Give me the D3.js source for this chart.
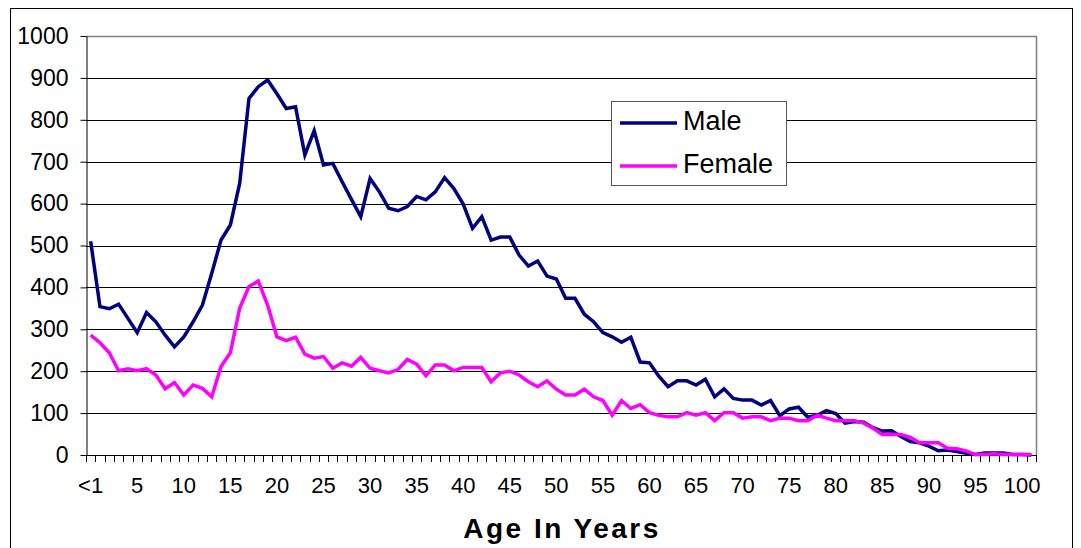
<!DOCTYPE html>
<html>
<head>
    <title>Age In Years</title>
    <meta charset="utf-8">
    <style>
        body { margin: 0; background: #fff; }
        text { font-family: "Liberation Sans", Arial, sans-serif; }
    </style>
</head>
<body>
<script src="https://d3js.org/d3.v7.min.js"></script>
<script>
    // Age categories: "<1", 1 ... 101
    const ages = d3.range(0, 102).map(a => a === 0 ? '<1' : String(a));
    const male = [510, 354, 349, 360, 326, 292, 340, 318, 286, 258,
        282, 318, 358, 434, 513, 549, 648, 851, 879, 895,
        862, 827, 831, 716, 774, 692, 696, 652, 610, 569,
        660, 628, 589, 583, 593, 617, 609, 628, 662, 636,
        599, 541, 569, 513, 520, 520, 477, 451, 463, 427,
        420, 374, 374, 336, 318, 292, 282, 269, 281, 222,
        220, 188, 163, 177, 177, 167, 181, 139, 158, 135,
        131, 131, 119, 130, 94, 110, 114, 90, 95, 106,
        99, 76, 80, 78, 65, 57, 58, 44, 32, 29,
        21, 10, 12, 8, 4, 1, 5, 5, 5, 1,
        1, 0];
    const female = [286, 268, 244, 201, 206, 201, 206, 191, 158, 173,
        143, 167, 159, 139, 211, 244, 350, 402, 415, 358,
        282, 273, 281, 241, 231, 235, 207, 220, 212, 233,
        207, 201, 196, 204, 228, 217, 189, 215, 215, 201,
        209, 209, 209, 175, 196, 200, 191, 175, 163, 177,
        157, 143, 143, 157, 139, 130, 95, 130, 111, 120,
        101, 95, 91, 91, 101, 95, 101, 82, 101, 101,
        88, 91, 91, 82, 88, 88, 82, 82, 95, 88,
        82, 82, 82, 76, 64, 49, 49, 49, 42, 29,
        29, 29, 16, 15, 10, 1, 1, 3, 1, 1,
        1, 1];
    const yTicks = d3.range(0, 1001, 100);
    const xLabelEvery = 5;
    const series = [
        {name: 'Male', values: male, color: '#000080'},
        {name: 'Female', values: female, color: '#ff00ff'}
    ];

    const W = 1081, H = 548;
    const plot = {left: 86, right: 1036, top: 36, bottom: 455};

    const svg = d3.select('body').append('svg')
        .attr('width', W)
        .attr('height', H);

    // chart area border (runs off the bottom of the picture)
    svg.append('rect')
        .attr('x', 10.5).attr('y', 8.5)
        .attr('width', 1062).attr('height', 570)
        .attr('fill', '#fff').attr('stroke', '#000');

    const x = d3.scaleBand().domain(ages).range([plot.left, plot.right]).padding(0);
    const y = d3.scaleLinear().domain([0, 1000]).range([plot.bottom, plot.top]);
    const cx = a => x(a) + x.bandwidth() / 2;

    // gridlines
    svg.append('g')
        .selectAll('line')
        .data(yTicks.filter(t => t > 0 && t < 1000))
        .join('line')
        .attr('x1', plot.left).attr('x2', plot.right)
        .attr('y1', d => Math.round(y(d)) + 0.5).attr('y2', d => Math.round(y(d)) + 0.5)
        .attr('stroke', '#000').attr('stroke-width', 1);

    // plot area border (top and right)
    svg.append('path')
        .attr('d', `M${plot.left},${plot.top + 0.5}H${plot.right + 0.5}V${plot.bottom}`)
        .attr('fill', 'none').attr('stroke', '#808080').attr('stroke-width', 1.5);

    // y axis
    const yAxis = svg.append('g')
        .attr('transform', `translate(${plot.left + 0.5},0)`)
        .call(d3.axisLeft(y).tickValues(yTicks).tickFormat(d3.format('d'))
            .tickSize(6).tickPadding(12).tickSizeOuter(0));
    yAxis.select('.domain').attr('stroke', '#000');
    yAxis.selectAll('text').attr('font-size', 23).attr('fill', '#000')
        .style('font-family', '"Liberation Sans", Arial, sans-serif');

    // x axis: ticks between categories, labels every 5th
    const xg = svg.append('g');
    xg.append('line')
        .attr('x1', plot.left).attr('x2', plot.right + 0.5)
        .attr('y1', plot.bottom + 0.5).attr('y2', plot.bottom + 0.5)
        .attr('stroke', '#000');
    xg.selectAll('.xt')
        .data(ages.concat(['end']))
        .join('line')
        .attr('class', 'xt')
        .attr('x1', (d, i) => Math.round(plot.left + i * x.bandwidth()) + 0.5)
        .attr('x2', (d, i) => Math.round(plot.left + i * x.bandwidth()) + 0.5)
        .attr('y1', plot.bottom).attr('y2', plot.bottom + 7)
        .attr('stroke', '#000');
    xg.selectAll('.xl')
        .data(ages.filter((d, i) => i % xLabelEvery === 0 && i <= 100))
        .join('text')
        .attr('class', 'xl')
        .attr('x', d => cx(d))
        .attr('y', 493)
        .attr('text-anchor', 'middle')
        .attr('font-size', 22)
        .text(d => d);

    // lines
    const line = d3.line()
        .x((d, i) => cx(ages[i]))
        .y(d => y(d));
    svg.append('g')
        .selectAll('path')
        .data(series)
        .join('path')
        .attr('d', d => line(d.values))
        .attr('fill', 'none')
        .attr('stroke', d => d.color)
        .attr('stroke-width', 3.5)
        .attr('stroke-linejoin', 'miter');

    // legend
    const lg = svg.append('g');
    lg.append('rect')
        .attr('x', 611.5).attr('y', 101.5)
        .attr('width', 175).attr('height', 84)
        .attr('fill', '#fff').attr('stroke', '#555');
    const items = lg.selectAll('.li')
        .data(series)
        .join('g')
        .attr('class', 'li')
        .attr('transform', (d, i) => `translate(0,${123 + i * 43})`);
    items.append('line')
        .attr('x1', 620).attr('x2', 677)
        .attr('stroke', d => d.color).attr('stroke-width', 3.5);
    items.append('text')
        .attr('x', 683).attr('y', 7)
        .attr('font-size', 27)
        .text(d => d.name);

    // x title
    svg.append('text')
        .attr('x', 562).attr('y', 538)
        .attr('text-anchor', 'middle')
        .attr('font-size', 28)
        .attr('font-weight', 'bold')
        .attr('letter-spacing', 2.5)
        .text('Age In Years');
</script>
</body>
</html>
